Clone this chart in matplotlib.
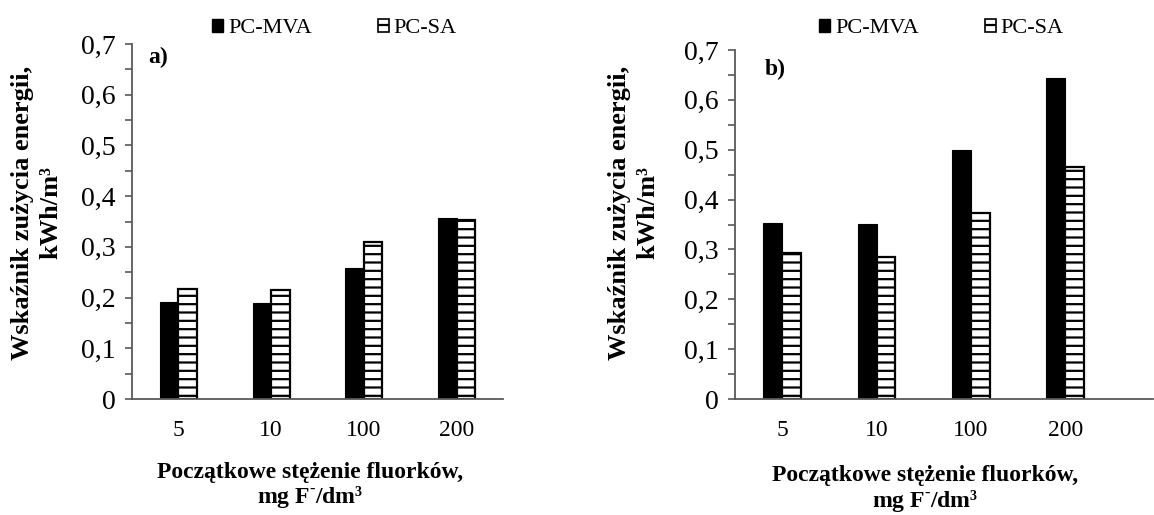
import matplotlib
matplotlib.use("Agg")
import matplotlib.pyplot as plt
from matplotlib.patches import Patch
from matplotlib.ticker import MultipleLocator, FuncFormatter

plt.rcParams["font.family"] = ["Liberation Serif", "DejaVu Serif"]
plt.rcParams["mathtext.fontset"] = "custom"
plt.rcParams["mathtext.rm"] = "Liberation Serif:bold"
plt.rcParams["mathtext.bf"] = "Liberation Serif:bold"
plt.rcParams["hatch.linewidth"] = 1.6
plt.rcParams["hatch.color"] = "black"

# ------------------------------------------------------------------ data
categories = ["5", "10", "100", "200"]
mva_a = [0.191, 0.189, 0.258, 0.357]
sa_a = [0.217, 0.215, 0.310, 0.353]
mva_b = [0.354, 0.351, 0.500, 0.644]
sa_b = [0.293, 0.285, 0.374, 0.465]

YLABEL = "Wskaźnik zużycia energii,\nkWh/m³"
XLABEL = "Początkowe stężenie fluorków,\nmg F$^{\\text{-}}$/dm³"
AXIS_GREY = "#595959"
BAR_W = 0.2


def fmt_comma(v, _pos):
    if abs(v) < 1e-9:
        return "0"
    return f"{v:.1f}".replace(".", ",")


def draw_panel(fig, rect, mva, sa, tag, xlim, ylab_xy, xlab_xy, tag_xy, leg_xy):
    ax = fig.add_axes(rect)
    x = list(range(len(categories)))
    ax.bar([i - BAR_W / 2 for i in x], mva, BAR_W, color="black",
           edgecolor="black", linewidth=0.8, label="PC-MVA")
    ax.bar([i + BAR_W / 2 for i in x], sa, BAR_W, color="white",
           edgecolor="black", linewidth=1.6, hatch="--", label="PC-SA")

    ax.set_xlim(*xlim)
    ax.set_ylim(0, 0.7)
    ax.set_xticks(x)
    ax.set_xticklabels(categories, fontsize=17)
    ax.tick_params(axis="x", length=0, pad=15)

    ax.yaxis.set_major_locator(MultipleLocator(0.1))
    ax.yaxis.set_minor_locator(MultipleLocator(0.05))
    ax.yaxis.set_major_formatter(FuncFormatter(fmt_comma))
    ax.tick_params(axis="y", which="both", direction="out", length=5,
                   width=1.2, color=AXIS_GREY, labelsize=20, pad=7)

    for side in ("top", "right"):
        ax.spines[side].set_visible(False)
    for side in ("left", "bottom"):
        ax.spines[side].set_color(AXIS_GREY)
        ax.spines[side].set_linewidth(1.3)

    ax.text(*ylab_xy, YLABEL, transform=ax.transAxes, rotation=90,
            ha="center", va="center", fontsize=19, fontweight="bold",
            multialignment="center", linespacing=1.3)
    ax.text(*xlab_xy, XLABEL, transform=ax.transAxes, ha="center",
            va="center", fontsize=17, fontweight="bold",
            multialignment="center", linespacing=1.1)
    ax.text(*tag_xy, tag, transform=ax.transAxes, ha="left", va="center",
            fontsize=17, fontweight="bold")

    handles = [Patch(facecolor="black", edgecolor="black", label="PC-MVA"),
               Patch(facecolor="white", edgecolor="black", linewidth=1.2,
                     hatch="-", label="PC-SA")]
    fig.legend(handles=handles, loc="center", bbox_to_anchor=leg_xy,
               ncol=2, frameon=False, fontsize=16, handlelength=0.5,
               handleheight=0.5, handletextpad=0.2, columnspacing=3.0)
    return ax


fig = plt.figure(figsize=(11.54, 5.15), dpi=100)

draw_panel(fig, [0.1144, 0.2252, 0.3215, 0.6893], mva_a, sa_a, "a)",
           xlim=(-0.5, 3.5), ylab_xy=(-0.258, 0.525), xlab_xy=(0.48, -0.245),
           tag_xy=(0.045, 0.963), leg_xy=(0.29, 0.944))
draw_panel(fig, [0.6369, 0.2252, 0.3622, 0.6777], mva_b, sa_b, "b)",
           xlim=(-0.5, 3.93), ylab_xy=(-0.243, 0.533), xlab_xy=(0.455, -0.258),
           tag_xy=(0.072, 0.943), leg_xy=(0.816, 0.944))

fig.savefig("out.png", dpi=100)
